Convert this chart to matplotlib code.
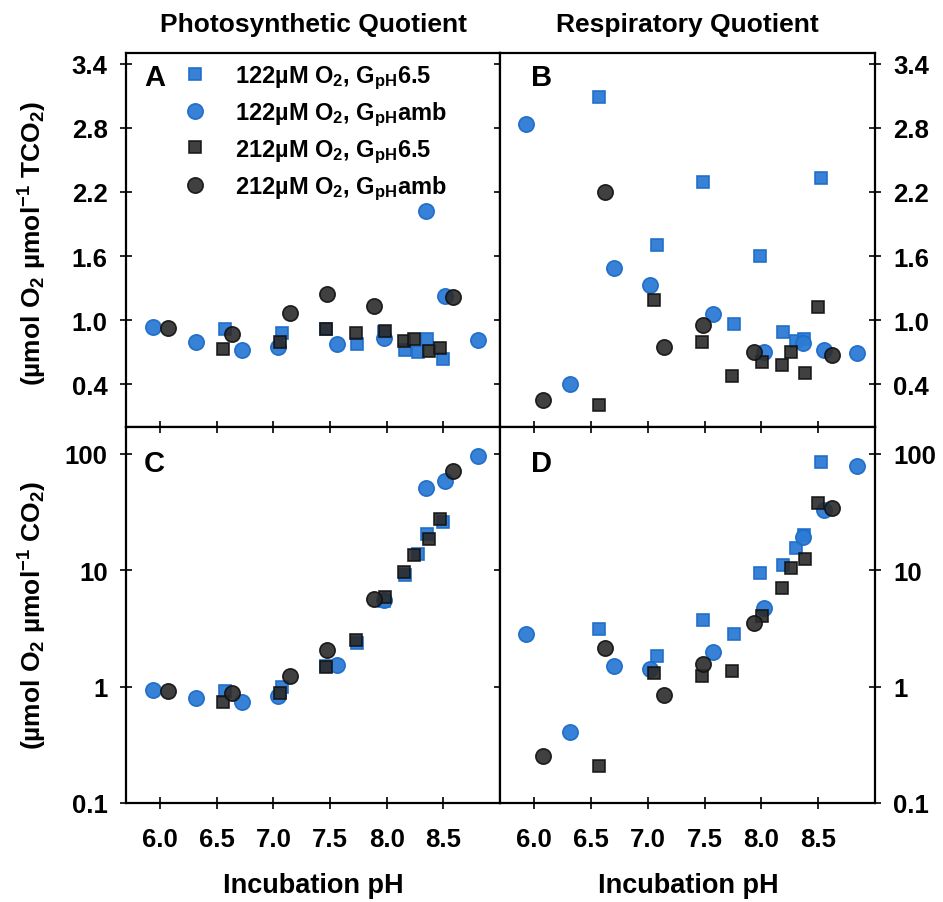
import matplotlib
matplotlib.use("Agg")
import matplotlib.pyplot as plt
from matplotlib.lines import Line2D

plt.rcParams['font.family'] = ['Liberation Sans', 'DejaVu Sans']
plt.rcParams['font.weight'] = 'bold'
plt.rcParams['mathtext.fontset'] = 'custom'
plt.rcParams['mathtext.rm'] = 'Liberation Sans:bold'
plt.rcParams['mathtext.it'] = 'Liberation Sans:bold'
plt.rcParams['mathtext.bf'] = 'Liberation Sans:bold'
plt.rcParams['mathtext.default'] = 'rm'

# ---- data: photosynthetic quotient (A, C) ----
ps_x_122_65 = [6.575, 7.08, 7.461, 7.74, 7.975, 8.16, 8.277, 8.356, 8.497]
ps_x_122_amb = [5.935, 6.317, 6.722, 7.042, 7.564, 7.975, 8.350, 8.512, 8.802]
ps_x_212_65 = [6.560, 7.056, 7.467, 7.725, 7.984, 8.151, 8.239, 8.371, 8.474]
ps_x_212_amb = [6.073, 6.634, 7.144, 7.476, 7.890, 8.585]

pq_tco2_122_65 = [0.916, 0.882, 0.916, 0.776, 0.885, 0.720, 0.705, 0.823, 0.636]
pq_tco2_122_amb = [0.938, 0.792, 0.720, 0.751, 0.773, 0.829, 2.026, 1.230, 0.813]
pq_tco2_212_65 = [0.726, 0.798, 0.916, 0.876, 0.901, 0.807, 0.820, 0.711, 0.736]
pq_tco2_212_amb = [0.928, 0.869, 1.065, 1.246, 1.131, 1.218]

pq_co2_122_65 = [0.924, 0.987, 1.50, 2.38, 5.40, 9.06, 13.7, 20.3, 26.1]
pq_co2_122_amb = [0.942, 0.793, 0.732, 0.836, 1.52, 5.59, 51.3, 58.9, 95.5]
pq_co2_212_65 = [0.733, 0.881, 1.47, 2.49, 5.89, 9.68, 13.5, 18.5, 27.5]
pq_co2_212_amb = [0.925, 0.881, 1.23, 2.08, 5.70, 71.8]

# ---- data: respiratory quotient (B, D) ----
rs_x_122_65 = [6.568, 7.079, 7.488, 7.759, 7.985, 8.191, 8.309, 8.376, 8.524]
rs_x_122_amb = [5.932, 6.318, 6.706, 7.024, 7.574, 8.024, 8.368, 8.553, 8.844]
rs_x_212_65 = [6.568, 7.059, 7.479, 7.744, 8.005, 8.182, 8.265, 8.388, 8.500]
rs_x_212_amb = [6.074, 6.621, 7.147, 7.488, 7.935, 8.624]

rq_tco2_122_65 = [3.092, 1.706, 2.290, 0.960, 1.600, 0.891, 0.807, 0.820, 2.331]
rq_tco2_122_amb = [2.840, 0.403, 1.488, 1.333, 1.053, 0.705, 0.782, 0.720, 0.695]
rq_tco2_212_65 = [0.207, 1.187, 0.798, 0.478, 0.605, 0.580, 0.698, 0.503, 1.124]
rq_tco2_212_amb = [0.254, 2.203, 0.751, 0.953, 0.705, 0.674]

rq_co2_122_65 = [3.10, 1.85, 3.71, 2.81, 9.55, 11.0, 15.6, 20.0, 85.9]
rq_co2_122_amb = [2.81, 0.404, 1.49, 1.42, 1.98, 4.77, 19.2, 32.9, 78.9]
rq_co2_212_65 = [0.208, 1.30, 1.24, 1.36, 4.03, 7.05, 10.5, 12.6, 37.6]
rq_co2_212_amb = [0.254, 2.15, 0.848, 1.55, 3.51, 34.0]

labels = [r'122µM O$_2$, G$_{pH}$6.5', r'122µM O$_2$, G$_{pH}$amb',
          r'212µM O$_2$, G$_{pH}$6.5', r'212µM O$_2$, G$_{pH}$amb']
x_ticks = [6.0, 6.5, 7.0, 7.5, 8.0, 8.5]
lin_ticks = [0.4, 1.0, 1.6, 2.2, 2.8, 3.4]
log_ticks = [0.1, 1, 10, 100]

blue = '#2c7bd5'
blue_edge = '#1d6cc8'
dark = '#2b2b2b'
dark_edge = '#111111'
styles = [
    dict(marker='s', ms=9.0, mfc=blue, mec=blue_edge, alpha=0.95),
    dict(marker='o', ms=11.0, mfc=blue, mec=blue_edge, alpha=0.95),
    dict(marker='s', ms=9.0, mfc=dark, mec=dark_edge, alpha=0.9),
    dict(marker='o', ms=11.0, mfc=dark, mec=dark_edge, alpha=0.9),
]

fig = plt.figure(figsize=(9.43, 9.03), dpi=100)
W, H = 943, 903
def box(x0, x1, y0, y1):
    return [x0 / W, 1 - y1 / H, (x1 - x0) / W, (y1 - y0) / H]

axA = fig.add_axes(box(126, 500, 54, 428))
axB = fig.add_axes(box(500, 875, 54, 428))
axC = fig.add_axes(box(126, 500, 428, 804))
axD = fig.add_axes(box(500, 875, 428, 804))

panels = [
    (axA, [ps_x_122_65, ps_x_122_amb, ps_x_212_65, ps_x_212_amb],
     [pq_tco2_122_65, pq_tco2_122_amb, pq_tco2_212_65, pq_tco2_212_amb], 'A'),
    (axB, [rs_x_122_65, rs_x_122_amb, rs_x_212_65, rs_x_212_amb],
     [rq_tco2_122_65, rq_tco2_122_amb, rq_tco2_212_65, rq_tco2_212_amb], 'B'),
    (axC, [ps_x_122_65, ps_x_122_amb, ps_x_212_65, ps_x_212_amb],
     [pq_co2_122_65, pq_co2_122_amb, pq_co2_212_65, pq_co2_212_amb], 'C'),
    (axD, [rs_x_122_65, rs_x_122_amb, rs_x_212_65, rs_x_212_amb],
     [rq_co2_122_65, rq_co2_122_amb, rq_co2_212_65, rq_co2_212_amb], 'D'),
]

for ax, xs, ys, letter in panels:
    for x, y, st in zip(xs, ys, styles):
        ax.plot(x, y, ls='none', mew=1.2, **st)
    ax.set_xlim(5.7, 9.0)
    for s in ax.spines.values():
        s.set_linewidth(1.6)
    ax.tick_params(which='both', width=1.2, labelsize=18.5)
    ax.set_xticks(x_ticks)
    ax.set_xticklabels(['%.1f' % t for t in x_ticks])
    ytop = 0.936 if letter in 'AB' else 0.904
    xl = 0.048 if letter in 'AC' else 0.083
    ax.text(xl, ytop, letter, transform=ax.transAxes, fontsize=21,
            fontweight='bold', va='center', ha='left')

for ax in (axA, axB):
    ax.set_ylim(0, 3.5)
    ax.set_yticks(lin_ticks)
    ax.set_yticklabels(['%.1f' % t for t in lin_ticks])
for ax in (axC, axD):
    ax.set_yscale('log')
    ax.set_ylim(0.1, 170)
    ax.set_yticks(log_ticks)
    ax.set_yticklabels(['0.1', '1', '10', '100'])
    ax.minorticks_off()

# tick placement
axA.tick_params(axis='x', bottom=False, top=False, labelbottom=False)
axA.tick_params(axis='y', left=True, right=False, direction='inout', length=8.6, pad=9)
axB.tick_params(axis='x', bottom=False, top=False, labelbottom=False)
axB.tick_params(axis='y', left=False, right=True, labelleft=False, labelright=True,
                direction='inout', length=8.6, pad=9)
axC.tick_params(axis='x', bottom=True, top=True, direction='inout', length=8.6, pad=13)
axC.tick_params(axis='y', left=True, right=False, direction='inout', length=8.6, pad=9)
axD.tick_params(axis='x', bottom=True, top=True, direction='inout', length=8.6, pad=13)
axD.tick_params(axis='y', left=False, right=True, labelleft=False, labelright=True,
                direction='inout', length=8.6, pad=9)

# inner right ticks (inward only) on left column
for ax, vals in ((axA, lin_ticks), (axC, log_ticks)):
    sec = ax.secondary_yaxis('right')
    sec.set_yticks(vals)
    sec.tick_params(direction='in', length=4.3, width=1.2, labelright=False)
    sec.spines['right'].set_visible(False)

handles = [Line2D([], [], ls='none', mew=1.2, **st) for st in styles]
axA.legend(handles, labels, loc='upper left', bbox_to_anchor=(0.152, 0.972),
           frameon=False, handlelength=1.0, handletextpad=1.2,
           labelspacing=0.38, borderpad=0, borderaxespad=0,
           prop={'weight': 'bold', 'size': 17})

fig.text(313 / W, 1 - 25 / H, 'Photosynthetic Quotient', ha='center', va='center',
         fontsize=19, fontweight='bold')
fig.text(687 / W, 1 - 25 / H, 'Respiratory Quotient', ha='center', va='center',
         fontsize=19, fontweight='bold')

fig.text(313 / W, 1 - 886 / H, 'Incubation pH', ha='center', va='center',
         fontsize=19.5, fontweight='bold')
fig.text(688 / W, 1 - 886 / H, 'Incubation pH', ha='center', va='center',
         fontsize=19.5, fontweight='bold')

fig.text(33 / W, 1 - 243 / H, r'(µmol O$_2$ µmol$^{-1}$ TCO$_2$)', rotation=90,
         ha='center', va='center', fontsize=19, fontweight='bold')
fig.text(33 / W, 1 - 616 / H, r'(µmol O$_2$ µmol$^{-1}$ CO$_2$)', rotation=90,
         ha='center', va='center', fontsize=19, fontweight='bold')

fig.savefig('out.png', dpi=100)
